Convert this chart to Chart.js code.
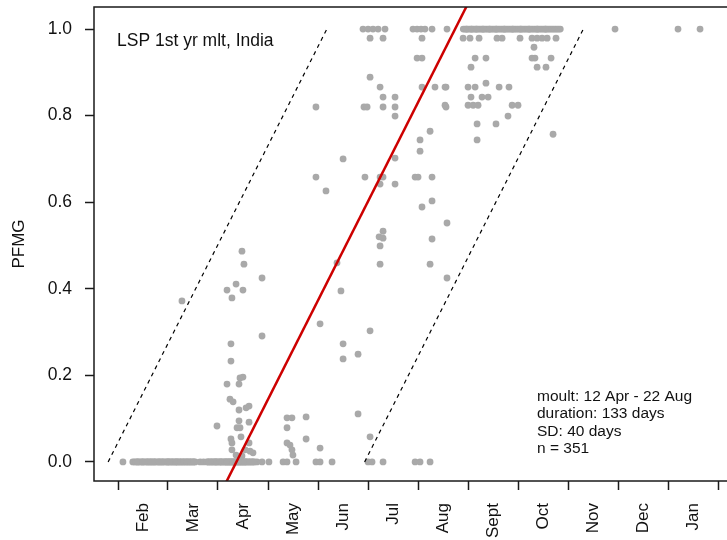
<!DOCTYPE html>
<html>
<head>
<meta charset="utf-8">
<script src="https://cdn.jsdelivr.net/npm/chart.js@4/dist/chart.umd.min.js"></script>
<style>
  html, body { margin: 0; padding: 0; background: #fff; overflow: hidden; }
  canvas { display: block; }
</style>
</head>
<body>
<canvas id="myChart" width="745" height="540"></canvas>
<script>
// x = days since 1 Feb, y = PFMG score

// birds with no moult yet (score 0)
const zeroRowDays = [
  3.0, 84.5, 87.6, 91.8, 100.4, 102.8, 108.3, 120.4, 122.9, 130.2, 152.1, 154.5, 161.2, 180.7, 183.7, 189.8,
  9, 10, 11, 12, 13, 14, 15, 16, 17, 18, 19, 20, 21, 22, 23, 24, 25, 26, 27, 28, 29, 30, 31, 32, 33, 34, 35,
  36, 37, 38, 39, 40, 41, 42, 43, 44, 45, 46, 47, 50, 52,
  54, 55, 56, 57, 58, 59, 60, 61, 62, 63, 64, 65, 66, 67, 68, 69, 70, 71, 72, 73, 74, 75, 76, 77, 78, 79,
  80, 81, 82, 83,
  12, 15, 18, 20, 22, 25, 27, 30, 31, 33, 35, 36, 38, 40, 42, 44, 46,
  55, 57, 59, 60, 62, 63, 65, 66, 67, 68, 69, 70, 71, 72, 73, 74, 75, 76, 77, 78, 80, 82
]

// birds with moult finished (score 1)
const fullRowDays = [
  149.0, 152.1, 155.1, 158.2, 162.4, 179.4, 181.9, 184.3, 186.7, 191.0, 200.1, 302.3, 340.6, 354.0,
  210, 211, 212, 213, 214, 215, 216, 217, 218, 219, 220, 221, 222, 223, 224, 225, 226, 227, 228, 229,
  230, 231, 232, 233, 234, 235, 236, 237, 238, 239, 240, 241, 242, 243, 244, 245, 246, 247, 248, 249,
  250, 251, 252, 253, 254, 255, 256, 257, 258, 259, 260, 261, 262, 263, 264, 265, 266, 267, 268, 269,
  212, 215, 218, 222, 226, 230, 235, 240, 245, 250, 255, 260
]

// birds in active moult
const moultDays = [
  38.9, 60.2, 66.3, 69.3, 71.8, 76.0, 75.4, 76.6, 87.6, 87.6, 68.7, 68.7, 74.2, 76.0, 66.3, 73.6,
  68.1, 70.0, 79.7, 77.9, 73.6, 73.6, 79.7, 72.4, 74.2, 74.8, 68.7, 69.3, 79.7, 69.3, 77.3, 80.3,
  82.1, 71.8, 75.4,
  102.8, 105.8, 114.4, 102.8, 114.4, 102.8, 104.6, 105.8, 106.4, 122.9, 122.9, 135.6, 133.2, 136.9,
  136.9, 146.0, 146.0, 153.3, 153.3,
  120.4, 149.6, 151.5, 136.9, 120.4, 150.2, 126.5, 153.3, 161.2, 184.9, 181.9, 184.9, 153.3, 159.4,
  184.9, 192.8, 199.5, 161.2, 168.5, 161.2, 168.5, 199.5, 168.5, 189.8, 183.7, 183.7, 168.5, 159.4,
  161.2, 180.7, 182.5, 191.0, 159.4, 168.5, 191.0, 184.9, 200.1, 161.2, 158.8, 161.2, 191.0, 159.4,
  159.4, 189.8, 200.1,
  209.9, 214.1, 219.6, 230.5, 233.6, 244.5, 251.8, 254.9, 257.9, 261.0, 266.4, 253.0, 217.2, 223.8,
  251.8, 253.6, 263.4, 214.7, 254.9, 260.3, 223.8, 198.9, 212.9, 217.2, 231.8, 237.8, 214.7, 221.4,
  225.1, 198.9, 212.9, 216.0, 219.0, 239.7, 243.3, 237.2, 218.4, 229.9, 264.6, 218.4
]
const moultScores = [
  0.372, 0.083, 0.397, 0.379, 0.411, 0.397, 0.487, 0.457, 0.425, 0.291, 0.273, 0.233, 0.194, 0.196, 0.180, 0.180,
  0.145, 0.139, 0.129, 0.125, 0.120, 0.095, 0.092, 0.079, 0.079, 0.058, 0.053, 0.044, 0.044, 0.028, 0.028, 0.025,
  0.021, 0.016, 0.014,
  0.102, 0.102, 0.104, 0.079, 0.053, 0.044, 0.039, 0.028, 0.016, 0.032, 0.319, 0.395, 0.460, 0.273,
  0.238, 0.249, 0.111, 0.303, 0.058,
  0.820, 0.820, 0.820, 0.700, 0.658, 0.658, 0.626, 0.979, 0.979, 0.979, 0.933, 0.933, 0.889, 0.866,
  0.866, 0.866, 0.866, 0.843, 0.843, 0.820, 0.820, 0.820, 0.799, 0.764, 0.744, 0.718, 0.702, 0.658,
  0.658, 0.658, 0.658, 0.658, 0.642, 0.642, 0.603, 0.589, 0.552, 0.533, 0.520, 0.517, 0.515, 0.499,
  0.457, 0.457, 0.425,
  0.979, 0.979, 0.979, 0.979, 0.979, 0.979, 0.979, 0.979, 0.979, 0.979, 0.979, 0.958, 0.933, 0.933,
  0.933, 0.933, 0.933, 0.912, 0.912, 0.912, 0.875, 0.866, 0.866, 0.866, 0.866, 0.866, 0.843, 0.843,
  0.843, 0.824, 0.824, 0.824, 0.824, 0.824, 0.824, 0.799, 0.781, 0.781, 0.757, 0.744
]

// fitted moult model
const startDay = 72 // 12 Apr
const durationDays = 133
const ciDays = 78 // 1.96 * SD

const monthNames = ['Feb', 'Mar', 'Apr', 'May', 'Jun', 'Jul', 'Aug', 'Sept', 'Oct', 'Nov', 'Dec', 'Jan']
const monthEdges = [0, 30.4, 60.8, 91.3, 121.7, 152.1, 182.5, 212.9, 243.3, 273.8, 304.2, 334.6, 365]
const yTicks = [0, 0.2, 0.4, 0.6, 0.8, 1.0]

const statLines = ['moult: 12 Apr - 22 Aug', 'duration: 133 days', 'SD: 40 days', 'n = 351']
const plotLabel = 'LSP 1st yr mlt, India'

const points = [
  ...zeroRowDays.map((d) => ({ x: d, y: 0 })),
  ...fullRowDays.map((d) => ({ x: d, y: 1 })),
  ...moultDays.map((d, i) => ({ x: d, y: moultScores[i] })),
]

// month boundaries carry the tick marks, mid-month ticks carry the names
const xTicks = []
monthEdges.forEach((v, i) => {
  xTicks.push(v)
  if (i < monthEdges.length - 1) xTicks.push((v + monthEdges[i + 1]) / 2)
})

const lineAt = (offset, y0, y1) => [
  { x: startDay + offset + y0 * durationDays, y: y0 },
  { x: startDay + offset + y1 * durationDays, y: y1 },
]

const fontFamily = "'Liberation Sans', Arial, sans-serif"

const boxPlugin = {
  id: 'boxAndText',
  afterDraw(chart) {
    const { ctx, chartArea } = chart
    ctx.save()
    ctx.strokeStyle = '#1a1a1a'
    ctx.lineWidth = 1.5
    ctx.strokeRect(chartArea.left, chartArea.top, chartArea.right - chartArea.left, chartArea.bottom - chartArea.top)
    ctx.fillStyle = '#111'
    ctx.textBaseline = 'alphabetic'
    ctx.textAlign = 'left'
    ctx.font = '17.5px ' + fontFamily
    ctx.fillText(plotLabel, 117, 46)
    ctx.font = '15.5px ' + fontFamily
    statLines.forEach((t, i) => ctx.fillText(t, 537, 401 + i * 17.3))
    ctx.restore()
  },
}

const config = {
  type: 'scatter',
  data: {
    datasets: [
      {
        label: 'fit',
        data: lineAt(0, -0.1, 1.1),
        showLine: true,
        borderColor: '#cd0000',
        borderWidth: 2.5,
        pointRadius: 0,
        order: 0,
      },
      {
        label: 'lower',
        data: lineAt(-ciDays, 0, 1),
        showLine: true,
        borderColor: '#000',
        borderWidth: 1.2,
        borderDash: [4, 4],
        pointRadius: 0,
        order: 0,
      },
      {
        label: 'upper',
        data: lineAt(ciDays, 0, 1),
        showLine: true,
        borderColor: '#000',
        borderWidth: 1.2,
        borderDash: [4, 4],
        pointRadius: 0,
        order: 0,
      },
      {
        label: 'birds',
        data: points,
        backgroundColor: '#a9a9a9',
        borderWidth: 0,
        pointRadius: 3.4,
        order: 1,
      },
    ],
  },
  options: {
    responsive: false,
    devicePixelRatio: 1,
    animation: false,
    layout: { padding: { top: 7, right: 5, left: 0, bottom: 0 } },
    plugins: {
      legend: { display: false },
      tooltip: { enabled: false },
    },
    scales: {
      x: {
        type: 'linear',
        min: -14.6,
        max: 378.3,
        border: { display: false },
        grid: {
          drawOnChartArea: false,
          tickLength: 9,
          tickWidth: 1.5,
          tickColor: (ctx) => (ctx.index % 2 === 0 ? '#1a1a1a' : 'rgba(0,0,0,0)'),
        },
        afterBuildTicks: (scale) => {
          scale.ticks = xTicks.map((v) => ({ value: v }))
        },
        afterFit: (scale) => {
          scale.height = 59
          scale.paddingLeft = 0
          scale.paddingRight = 0
        },
        ticks: {
          autoSkip: false,
          minRotation: 90,
          maxRotation: 90,
          padding: 13,
          color: '#111',
          font: { size: 17, family: fontFamily },
          callback: (v, i) => (i % 2 === 1 ? monthNames[(i - 1) / 2] : ''),
        },
      },
      y: {
        min: -0.044,
        max: 1.051,
        border: { display: false },
        grid: {
          drawOnChartArea: false,
          tickLength: 9,
          tickWidth: 1.5,
          tickColor: '#1a1a1a',
        },
        afterBuildTicks: (scale) => {
          scale.ticks = yTicks.map((v) => ({ value: v }))
        },
        afterFit: (scale) => {
          scale.width = 94
          scale.paddingTop = 0
          scale.paddingBottom = 0
        },
        ticks: {
          padding: 13,
          color: '#111',
          font: { size: 17.5, family: fontFamily },
          callback: (v) => v.toFixed(1),
        },
        title: {
          display: true,
          text: 'PFMG',
          color: '#111',
          font: { size: 17, family: fontFamily },
          padding: { top: 9, bottom: 0 },
        },
      },
    },
  },
  plugins: [boxPlugin],
}

const myChart = new Chart(document.getElementById('myChart'), config)
</script>
</body>
</html>
